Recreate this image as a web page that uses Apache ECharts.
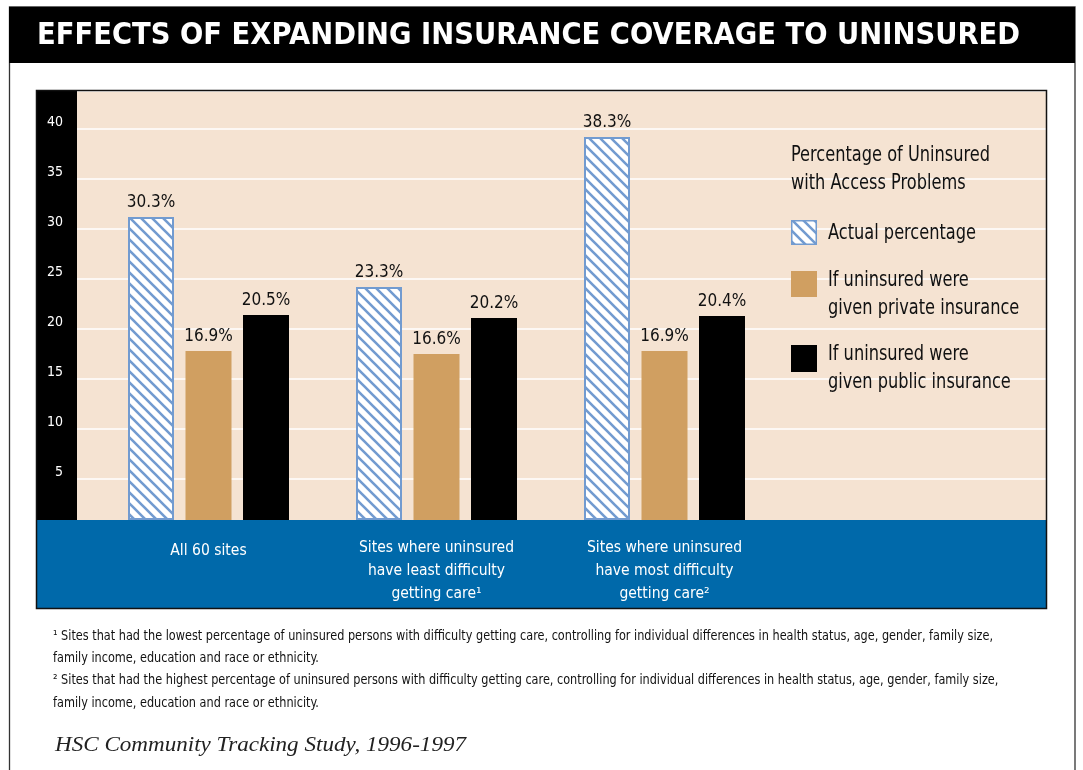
<!DOCTYPE html>
<html>
<head>
<meta charset="utf-8">
<script src="https://cdn.jsdelivr.net/npm/echarts@6/dist/echarts.min.js"></script>
<style>
html,body{margin:0;padding:0;background:#fff;}
#chart{width:1083px;height:770px;}
</style>
</head>
<body>
<div id="chart"></div>
<script>
// ---- data ----
const titleText = 'EFFECTS OF EXPANDING INSURANCE COVERAGE TO UNINSURED';
const categories = [
  'All 60 sites',
  'Sites where uninsured\nhave least difficulty\ngetting care¹',
  'Sites where uninsured\nhave most difficulty\ngetting care²',
  ''
];
const seriesNames = ['Actual percentage', 'If uninsured were\ngiven private insurance', 'If uninsured were\ngiven public insurance'];
const actualPct = [30.3, 23.3, 38.3, null];
const privatePct = [16.9, 16.6, 16.9, null];
const publicPct = [20.5, 20.2, 20.4, null];
const legendTitle = 'Percentage of Uninsured\nwith Access Problems';
const footnotes = [
  '¹ Sites that had the lowest percentage of uninsured persons with difficulty getting care, controlling for individual differences in health status, age, gender, family size,',
  'family income, education and race or ethnicity.',
  '² Sites that had the highest percentage of uninsured persons with difficulty getting care, controlling for individual differences in health status, age, gender, family size,',
  'family income, education and race or ethnicity.'
];
const sourceText = 'HSC Community Tracking Study, 1996-1997';

// ---- style ----
const COND = '"DejaVu Sans Condensed", "DejaVu Sans", sans-serif';
const BEIGE = '#f5e3d2';
const TAN = '#d09f61';
const BLUE = '#0069aa';
const HATCH = '#729bd0';

const mctx = document.createElement('canvas').getContext('2d');
function textWidth(text, font) {
  mctx.font = font;
  return Math.max.apply(null, text.split('\n').map(l => mctx.measureText(l).width));
}

function hatchCanvas() {
  const s = 11;
  const c = document.createElement('canvas');
  c.width = s; c.height = s;
  const g = c.getContext('2d');
  g.fillStyle = '#ffffff';
  g.fillRect(0, 0, s, s);
  g.strokeStyle = HATCH;
  g.lineWidth = 2.6;
  g.beginPath();
  g.moveTo(-3, -3); g.lineTo(s + 3, s + 3);
  g.moveTo(-3, s - 3); g.lineTo(3, s + 3);
  g.moveTo(s - 3, -3); g.lineTo(s + 3, 3);
  g.stroke();
  return c;
}
const hatchPattern = { image: hatchCanvas(), repeat: 'repeat' };

const chart = echarts.init(document.getElementById('chart'), null, { renderer: 'canvas' });

const titleFont = 'bold 31px "DejaVu Sans", sans-serif';
const titleScale = 983 / textWidth(titleText, titleFont);
const legendFont = '22px ' + COND;
const legendScale = 199 / textWidth('Percentage of Uninsured', legendFont);
const footFont = '14.5px ' + COND;
const footScale = 940 / textWidth(footnotes[0], footFont);
const srcFont = 'italic 21px "Liberation Serif", "DejaVu Serif", serif';
const srcScale = 411 / textWidth(sourceText, srcFont);

const legendX = 791;
const legendItems = [
  { fill: hatchPattern, stroke: HATCH, y: 220, h: 25 },
  { fill: TAN, stroke: null, y: 271, h: 26 },
  { fill: '#000', stroke: null, y: 345, h: 27 }
];
const legendTextTop = [219, 266, 340];

const graphic = [
  { type: 'rect', z: 0, shape: { x: 9.5, y: 7, width: 1065.5, height: 780 }, style: { fill: '#fff', stroke: '#333', lineWidth: 1.3 } },
  { type: 'rect', z: 0, shape: { x: 9, y: 7, width: 1066, height: 56 }, style: { fill: '#000' } },
  { type: 'text', z: 1, x: 37, y: 36, scaleX: titleScale, style: { text: titleText, x: 0, y: 0, fill: '#fff', font: titleFont, textAlign: 'left', textVerticalAlign: 'middle' } },
  { type: 'rect', z: 0, shape: { x: 37, y: 91, width: 40, height: 429 }, style: { fill: '#000' } },
  { type: 'rect', z: 3, shape: { x: 37, y: 520, width: 1009, height: 88 }, style: { fill: BLUE } },
  { type: 'rect', z: 6, shape: { x: 36.5, y: 90.5, width: 1010, height: 518 }, style: { fill: 'none', stroke: '#111', lineWidth: 1.5 } },
  { type: 'text', z: 7, x: legendX, y: 141, scaleX: legendScale, style: { text: legendTitle, x: 0, y: 0, fill: '#111', font: legendFont, lineHeight: 28, textAlign: 'left', textVerticalAlign: 'top' } }
];
legendItems.forEach((it, i) => {
  graphic.push({ type: 'rect', z: 7, shape: { x: legendX + (it.stroke ? 0.75 : 0), y: it.y + (it.stroke ? 0.75 : 0), width: it.stroke ? 24.5 : 26, height: it.stroke ? it.h - 1.5 : it.h },
    style: { fill: it.fill, stroke: it.stroke || null, lineWidth: it.stroke ? 1.5 : 0 } });
  graphic.push({ type: 'text', z: 7, x: 828, y: legendTextTop[i], scaleX: legendScale, style: { text: seriesNames[i], x: 0, y: 0, fill: '#111', font: legendFont, lineHeight: 28, textAlign: 'left', textVerticalAlign: 'top' } });
});
footnotes.forEach((t, i) => {
  graphic.push({ type: 'text', z: 7, x: 53, y: 636 + i * 22.3, scaleX: footScale, style: { text: t, x: 0, y: 0, fill: '#111', font: footFont, textAlign: 'left', textVerticalAlign: 'middle' } });
});
graphic.push({ type: 'text', z: 7, x: 55, y: 745, scaleX: srcScale, style: { text: sourceText, x: 0, y: 0, fill: '#222', font: srcFont, textAlign: 'left', textVerticalAlign: 'middle' } });

const valueLabel = {
  show: true, position: 'top', distance: 6, color: '#111',
  fontFamily: COND, fontSize: 17, formatter: p => p.value + '%'
};

const option = {
  animation: false,
  backgroundColor: '#fff',
  graphic: { elements: graphic },
  grid: [
    { left: 77, right: 37, top: 91, bottom: 241, show: true, backgroundColor: BEIGE, borderWidth: 0, z: 1 },
    { left: 94.5, width: 912, top: 91, bottom: 250, z: 2 }
  ],
  xAxis: [
    { gridIndex: 0, type: 'category', data: categories, show: false },
    { gridIndex: 1, type: 'category', data: categories, z: 5,
      axisLine: { show: false }, axisTick: { show: false },
      axisLabel: {
        color: '#fff', fontFamily: COND, fontSize: 15.5, lineHeight: 23, margin: 16, interval: 0,
        formatter: (v, i) => i === 0 ? '{one|' + v + '}' : v,
        rich: { one: { color: '#fff', fontFamily: COND, fontSize: 15.5, lineHeight: 23, padding: [7, 0, 0, 0] } }
      } }
  ],
  yAxis: [
    { gridIndex: 0, type: 'value', min: 0, max: 43.8, interval: 5, z: 1,
      axisLine: { show: false }, axisTick: { show: false },
      splitLine: { show: true, lineStyle: { color: '#ffffff', width: 1.6 } },
      axisLabel: { color: '#fff', fontFamily: COND, fontSize: 14, margin: 14, verticalAlign: 'bottom', lineHeight: 14,
        formatter: v => v === 0 ? '' : String(v) } },
    { gridIndex: 1, type: 'value', min: 0, max: 42.9, show: false, splitLine: { show: false } }
  ],
  series: [
    { name: seriesNames[0], type: 'bar', xAxisIndex: 1, yAxisIndex: 1, data: actualPct, barWidth: 46, barGap: '25%',
      itemStyle: { color: hatchPattern, borderColor: HATCH, borderWidth: 2 }, label: valueLabel, z: 3 },
    { name: seriesNames[1], type: 'bar', xAxisIndex: 1, yAxisIndex: 1, data: privatePct, barWidth: 46, barGap: '25%',
      itemStyle: { color: TAN }, label: valueLabel, z: 3 },
    { name: seriesNames[2], type: 'bar', xAxisIndex: 1, yAxisIndex: 1, data: publicPct, barWidth: 46, barGap: '25%',
      itemStyle: { color: '#000' }, label: valueLabel, z: 3 }
  ]
};
chart.setOption(option);
</script>
</body>
</html>
